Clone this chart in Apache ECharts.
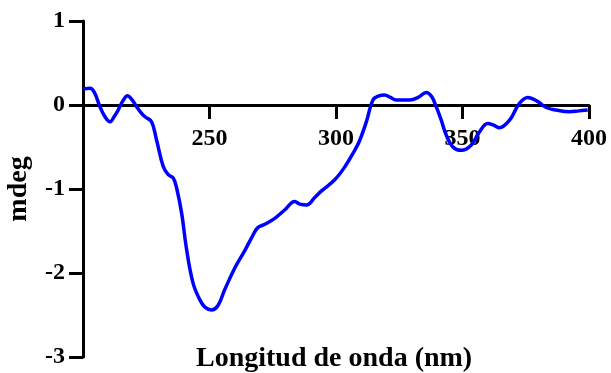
<!DOCTYPE html>
<html>
<head>
<meta charset="utf-8">
<script src="https://cdn.jsdelivr.net/npm/echarts@6/dist/echarts.min.js"></script>
<style>
  html, body { margin: 0; padding: 0; background: #fff; }
  #chart { width: 611px; height: 373px; }
</style>
</head>
<body>
<div id="chart"></div>
<script>
// CD spectrum, wavelength (nm) vs mdeg
var wavelength = [200, 202.8, 204.5, 206.7, 208.7, 210.7, 212.3, 213.9, 215.8, 217.6, 219.4, 221.2, 222.9, 224.5, 227.1,
  229.1, 231.7, 233.7, 235.7, 237.1, 239, 241, 243.5, 246.2, 248.3, 250.8, 253.3, 256, 260, 264, 267, 269.1, 271.9,
  275.8, 279.7, 283.7, 285.7, 288.4, 291.6, 294.4, 299.5, 303.4, 307.4, 309.4, 312, 314.6, 317, 319.2, 321.5, 323.8,
  329.1, 332.5, 335.7, 337.8, 339.6, 341.6, 343.6, 346.2, 349.5, 353.4, 356.7, 360, 362.3, 364.6, 368.6, 372.5,
  375.8, 379.8, 383.1, 387, 392.3, 396, 399.5];
var mdeg = [0.19, 0.2, 0.15, -0.02, -0.14, -0.2, -0.14, -0.06, 0.05, 0.11, 0.06, -0.02, -0.09, -0.14, -0.2,
  -0.42, -0.73, -0.83, -0.87, -1.0, -1.29, -1.73, -2.12, -2.32, -2.41, -2.44, -2.39, -2.2, -1.94, -1.73, -1.56, -1.46, -1.42,
  -1.35, -1.25, -1.15, -1.18, -1.19, -1.1, -1.02, -0.89, -0.74, -0.54, -0.42, -0.2, 0.06, 0.11, 0.12, 0.09, 0.06,
  0.06, 0.09, 0.15, 0.1, -0.02, -0.18, -0.36, -0.5, -0.54, -0.48, -0.32, -0.22, -0.24, -0.27, -0.18, 0.02,
  0.09, 0.04, -0.03, -0.06, -0.08, -0.07, -0.06];
var xTicks = [250, 300, 350, 400];
var yTicks = [-3, -2, -1, 0, 1];

var points = wavelength.map(function(w, i) { return [w, mdeg[i]]; });
var serif = 'Liberation Serif';

var chart = echarts.init(document.getElementById('chart'), null, { renderer: 'canvas' });
chart.setOption({
  animation: false,
  grid: [
    { left: 83, right: 22, top: 21, bottom: 16, outerBoundsMode: 'none', containLabel: false },
    // upper part only: its bottom edge is the zero line, where the x axis is drawn
    { left: 83, right: 22, top: 21, height: 84, outerBoundsMode: 'none', containLabel: false }
  ],
  xAxis: [{
    type: 'value', gridIndex: 0,
    min: 200, max: 400, interval: 50,
    axisLine: { show: false }, axisTick: { show: false }, axisLabel: { show: false },
    splitLine: { show: false }
  }, {
    type: 'value', gridIndex: 1, position: 'bottom',
    min: 200, max: 400, interval: 50,
    axisLine: { show: true, onZero: false, lineStyle: { color: '#000', width: 3 } },
    axisTick: {
      show: true, inside: false, length: 14, customValues: xTicks,
      lineStyle: { color: '#000', width: 3, type: 'solid', opacity: 1 }
    },
    axisLabel: {
      show: true, margin: 22, color: '#000', fontFamily: serif, fontWeight: 'bold', fontSize: 24,
      customValues: xTicks
    },
    splitLine: { show: false }
  }],
  yAxis: [{
    type: 'value', gridIndex: 0,
    min: -3, max: 1, interval: 1,
    name: 'mdeg', nameLocation: 'middle', nameGap: 50, nameRotate: 90,
    nameTextStyle: { color: '#000', fontFamily: serif, fontWeight: 'bold', fontSize: 28 },
    axisLine: { show: true, onZero: false, lineStyle: { color: '#000', width: 3 } },
    axisTick: { show: true, length: 14, lineStyle: { color: '#000', width: 3 } },
    axisLabel: {
      margin: 18, color: '#000', fontFamily: serif, fontWeight: 'bold', fontSize: 24,
      formatter: function(v) { return yTicks.indexOf(v) >= 0 ? String(v) : ''; }
    },
    splitLine: { show: false }
  }, {
    type: 'value', gridIndex: 1, min: 0, max: 1, show: false
  }],
  graphic: [{
    type: 'text',
    left: 196,
    top: 345,
    style: {
      text: 'Longitud de onda (nm)',
      fill: '#000',
      font: 'bold 28px "Liberation Serif"'
    }
  }],
  series: [{
    type: 'line',
    xAxisIndex: 0, yAxisIndex: 0,
    data: points,
    smooth: 0.4,
    showSymbol: false,
    z: 3,
    lineStyle: { color: '#0000ff', width: 3.5 }
  }]
});
</script>
</body>
</html>
